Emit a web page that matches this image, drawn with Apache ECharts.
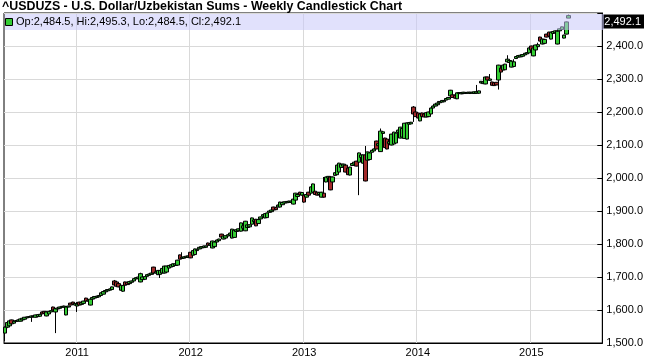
<!DOCTYPE html>
<html><head><meta charset="utf-8">
<script src="https://cdn.jsdelivr.net/npm/echarts@6/dist/echarts.min.js"></script>
<style>html,body{margin:0;padding:0;background:#fff}#c{width:646px;height:362px}</style>
</head><body><div id="c"></div>
<script>
// Weekly candles [open, close, low, high], weeks ending Fridays from 2010-05-21
const startDate = '2010-05-21';
const totalWeeks = 274; // axis span incl. empty weeks on the right
const yearLabels = ['2011','2012','2013','2014','2015'];
const yMin = 1500, yMax = 2500, yStep = 100;

const data2010 = [
[1530,1548,1505,1550],[1548,1562,1545,1566],[1552,1567,1550,1568],[1570,1558,1556,1571],
[1560,1566,1558,1567],[1565,1568,1564,1569],[1566,1570,1565,1571],[1566,1573,1565,1574],
[1570,1575,1569,1576],[1572,1578,1571,1579],[1576,1579,1575,1580],[1578,1580,1577,1581],
[1578,1582,1564,1583],[1580,1582,1579,1583],[1578,1585,1577,1586],[1580,1586,1579,1587],
[1581,1587,1580,1588],[1594,1588,1587,1595],[1596,1590,1589,1597],[1582,1594,1581,1595],
[1588,1596,1587,1597],[1594,1598,1593,1599],[1609,1600,1599,1610],[1594,1604,1530,1605],
[1603,1606,1602,1607],[1605,1609,1604,1610],[1608,1611,1607,1612],[1609,1612,1608,1613],
[1585,1609,1584,1610],[1609,1612,1608,1613],[1621,1615,1614,1622],[1624,1618,1617,1625],
[1615,1620,1614,1621]];
const data2011 = [
[1612,1618,1594,1624],[1624,1615,1614,1625],[1617,1622,1616,1623],[1620,1627,1619,1628],
[1636,1627,1626,1637],[1627,1630,1626,1631],[1615,1633,1614,1634],[1633,1638,1632,1639],
[1636,1641,1635,1642],[1638,1642,1637,1643],[1640,1644,1639,1645],[1644,1652,1643,1653],
[1648,1656,1647,1657],[1655,1659,1654,1660],[1658,1662,1657,1663],[1660,1664,1659,1665],
[1662,1670,1661,1671],[1688,1676,1675,1691],[1685,1672,1671,1686],[1680,1670,1669,1681],
[1660,1675,1659,1676],[1657,1674,1655,1675],[1685,1675,1674,1686],[1684,1677,1676,1685],
[1680,1686,1679,1687],[1684,1688,1683,1689],[1688,1695,1687,1696],[1694,1698,1693,1699],
[1695,1700,1694,1701],[1685,1710,1684,1713],[1692,1700,1691,1701],[1693,1701,1692,1702],
[1702,1707,1701,1708],[1705,1709,1704,1710],[1708,1712,1707,1713],[1730,1712,1711,1731],
[1712,1716,1711,1717],[1707,1720,1706,1721],[1708,1720,1697,1721],[1712,1726,1711,1727],
[1712,1733,1711,1734],[1715,1733,1714,1734],[1727,1735,1726,1736],[1730,1737,1729,1738],
[1732,1740,1731,1741],[1735,1740,1734,1741],[1736,1751,1735,1752],[1767,1754,1753,1768],
[1756,1760,1755,1775],[1757,1761,1756,1762],[1759,1763,1758,1764],[1760,1764,1759,1765]];
const data2012 = [
[1775,1758,1757,1776],[1766,1780,1765,1781],[1768,1785,1767,1786],[1780,1784,1779,1785],
[1785,1790,1784,1791],[1788,1792,1787,1793],[1789,1794,1788,1795],[1790,1794,1789,1795],
[1803,1796,1795,1804],[1796,1800,1795,1801],[1788,1809,1787,1810],[1792,1806,1791,1807],
[1806,1812,1805,1813],[1810,1815,1809,1816],[1830,1821,1820,1831],[1815,1824,1814,1825],
[1818,1825,1817,1826],[1824,1828,1823,1829],[1827,1833,1826,1834],[1818,1845,1817,1846],
[1820,1842,1819,1843],[1838,1843,1837,1844],[1840,1846,1839,1847],[1839,1864,1838,1865],
[1848,1855,1847,1856],[1840,1869,1839,1870],[1850,1858,1849,1859],[1852,1858,1851,1859],
[1860,1879,1859,1880],[1868,1873,1867,1874],[1875,1855,1854,1876],[1862,1874,1861,1875],
[1876,1882,1875,1883],[1884,1889,1883,1890],[1879,1892,1878,1893],[1880,1894,1879,1895],
[1896,1900,1895,1901],[1898,1903,1897,1904],[1912,1903,1902,1913],[1910,1904,1903,1911],
[1912,1918,1911,1919],[1912,1927,1911,1928],[1919,1926,1918,1927],[1924,1928,1923,1929],
[1925,1929,1924,1930],[1926,1930,1925,1931],[1926,1930,1925,1931],[1921,1936,1920,1937],
[1933,1954,1932,1955],[1944,1950,1943,1951],[1957,1949,1948,1958],[1948,1956,1947,1957]];
const data2013 = [
[1948,1927,1925,1952],[1942,1950,1941,1951],[1957,1948,1947,1958],[1954,1973,1953,1974],
[1957,1982,1956,1983],[1960,1950,1949,1961],[1957,1948,1947,1958],[1950,1956,1949,1957],
[1942,1957,1941,1958],[1954,1942,1941,2003],[1988,2003,1987,2004],[2000,2005,1999,2006],
[2003,1964,1963,2004],[1988,2003,1987,2004],[2008,2016,2007,2017],[2010,2039,2009,2040],
[2018,2045,2017,2046],[2032,2042,2031,2043],[2036,2042,2035,2043],[2039,2018,2017,2040],
[2030,2010,2009,2031],[2009,2033,2008,2034],[2038,2044,2037,2045],[2042,2048,2041,2049],
[2051,2036,2035,2052],[2048,2076,1948,2077],[2062,2070,2061,2071],[2045,2070,2044,2071],
[2070,1991,1990,2097],[2054,2079,2053,2080],[2056,2076,2055,2077],[2078,2084,2077,2085],
[2082,2088,2081,2089],[2112,2088,2087,2113],[2098,2104,2097,2105],[2080,2142,2079,2150],
[2135,2140,2134,2141],[2121,2092,2091,2122],[2118,2088,2087,2119],[2104,2110,2103,2111],
[2100,2133,2099,2134],[2103,2139,2102,2140],[2106,2136,2105,2137],[2138,2145,2137,2146],
[2121,2154,2120,2155],[2124,2150,2123,2151],[2120,2166,2119,2167],[2118,2167,2117,2168],
[2163,2168,2162,2169],[2164,2169,2163,2170],[2215,2194,2170,2218],[2200,2186,2185,2201]];
const data2014 = [
[2197,2182,2181,2198],[2173,2194,2172,2195],[2197,2186,2185,2198],[2194,2185,2184,2195],
[2185,2198,2184,2199],[2186,2200,2185,2201],[2194,2212,2193,2213],[2212,2218,2211,2219],
[2218,2224,2217,2225],[2222,2227,2221,2228],[2228,2232,2227,2233],[2230,2235,2229,2236],
[2231,2235,2230,2236],[2236,2241,2235,2242],[2239,2244,2238,2245],[2249,2266,2248,2267],
[2252,2244,2243,2253],[2251,2242,2241,2252],[2240,2258,2239,2259],[2256,2259,2255,2260],
[2255,2259,2254,2260],[2256,2260,2255,2261],[2256,2259,2255,2260],[2257,2260,2256,2261],
[2256,2260,2255,2261],[2257,2260,2256,2261],[2256,2261,2255,2262],[2257,2261,2256,2282],
[2257,2264,2256,2265],[2288,2293,2287,2294],[2286,2291,2285,2292],[2285,2306,2284,2307],
[2306,2297,2296,2307],[2296,2300,2295,2315],[2291,2281,2280,2292],[2289,2280,2279,2290],
[2290,2282,2281,2291],[2297,2342,2268,2343],[2333,2321,2320,2334],[2327,2342,2326,2343],
[2328,2345,2327,2346],[2352,2360,2351,2372],[2350,2356,2349,2357],[2336,2354,2335,2355],
[2338,2352,2337,2360],[2362,2368,2361,2369],[2366,2371,2365,2372],[2367,2372,2366,2373],
[2369,2374,2368,2375],[2373,2378,2372,2379],[2376,2380,2375,2381],[2379,2394,2378,2395]];
const data2015 = [
[2400,2388,2387,2401],[2370,2394,2369,2395],[2388,2403,2387,2404],[2398,2404,2397,2410],
[2427,2415,2414,2428],[2406,2421,2405,2422],[2408,2420,2407,2421],[2436,2427,2426,2437],
[2442,2430,2429,2443],[2421,2442,2420,2443],[2438,2444,2437,2445],[2440,2446,2439,2447],
[2406,2445,2405,2446],[2446,2452,2445,2453],[2450,2458,2449,2459],[2424,2433,2423,2434],
[2436,2473,2435,2474],[2484.5,2492.1,2484.5,2495.3]];

const candles = [].concat(data2010, data2011, data2012, data2013, data2014, data2015);

// weekly category dates
const dates = [];
{
  const d0 = new Date(startDate + 'T00:00:00Z');
  for (let i = 0; i < totalWeeks; i++) {
    const d = new Date(d0.getTime() + i * 7 * 86400000);
    dates.push(d.toISOString().slice(0, 10));
  }
}
const isYearStart = (idx) => idx > 0 && dates[idx].slice(0,4) !== dates[idx-1].slice(0,4) && yearLabels.includes(dates[idx].slice(0,4));

function fmt(v) {
  const s = v.toFixed(1);
  const [a, b] = s.split('.');
  return a.replace(/\B(?=(\d{3})+(?!\d))/g, ',') + '.' + b;
}

const last = candles[candles.length - 1];
const legendText = 'Op:' + fmt(last[0]) + ', Hi:' + fmt(last[3]) + ', Lo:' + fmt(last[2]) + ', Cl:' + fmt(last[1]);
const FONT = '"Liberation Sans", Arial, sans-serif';

const chart = echarts.init(document.getElementById('c'), null, {renderer: 'canvas'});
chart.setOption({
  animation: false,
  backgroundColor: '#fff',
  title: {
    text: '^USDUZS - U.S. Dollar/Uzbekistan Sums - Weekly Candlestick Chart',
    left: 2, top: 1, padding: 0,
    textStyle: {fontFamily: FONT, fontSize: 12.4, fontWeight: 'bold', color: '#000'}
  },
  grid: {left: 4, right: 42, top: 13, bottom: 19, show: true, borderColor: '#000', borderWidth: 1, backgroundColor: 'transparent'},
  xAxis: {
    type: 'category', data: dates, boundaryGap: true,
    axisLine: {lineStyle: {color: '#000', width: 1}},
    axisTick: {show: false},
    axisLabel: {interval: (i) => isYearStart(i), formatter: (v) => v.slice(0,4), fontFamily: FONT, fontSize: 11, color: '#000', margin: 4},
    splitLine: {show: true, interval: (i) => isYearStart(i), lineStyle: {color: '#d9d9d9', width: 1}}
  },
  yAxis: {
    type: 'value', position: 'right', min: yMin, max: yMax, interval: yStep, scale: true,
    axisLine: {show: true, lineStyle: {color: '#000', width: 1}},
    axisTick: {show: true, inside: true, length: 5, lineStyle: {color: '#000'}},
    axisLabel: {formatter: (v) => v >= yMax ? '' : fmt(v), fontFamily: FONT, fontSize: 11, color: '#000', margin: 4},
    splitLine: {show: true, lineStyle: {color: '#d9d9d9', width: 1}}
  },
  series: [{
    type: 'candlestick',
    data: candles,
    barWidth: 4,
    itemStyle: {color: '#33cc33', color0: '#a32a2a', borderColor: '#000', borderColor0: '#000', borderWidth: 1},
    markLine: {
      silent: true, symbol: 'none', animation: false,
      lineStyle: {color: 'transparent', width: 0},
      label: {show: true, position: 'end', distance: 0, offset: [0, 6], formatter: () => fmt(last[1]),
        backgroundColor: '#000', color: '#fff', fontFamily: FONT, fontSize: 11, padding: [2, 3, 1, 2]},
      data: [{yAxis: last[1]}]
    }
  }],
  graphic: [
    {type: 'rect', z: 100, shape: {x: 5, y: 14, width: 599, height: 16}, style: {fill: 'rgba(200,200,250,0.55)'}},
    {type: 'rect', z: 101, shape: {x: 5.5, y: 18.5, width: 7, height: 7}, style: {fill: '#33cc33', stroke: '#000', lineWidth: 1}},
    {type: 'text', z: 101, left: 16, top: 16, style: {text: legendText, font: '11px ' + FONT, fill: '#000'}}
  ]
});
</script></body></html>
